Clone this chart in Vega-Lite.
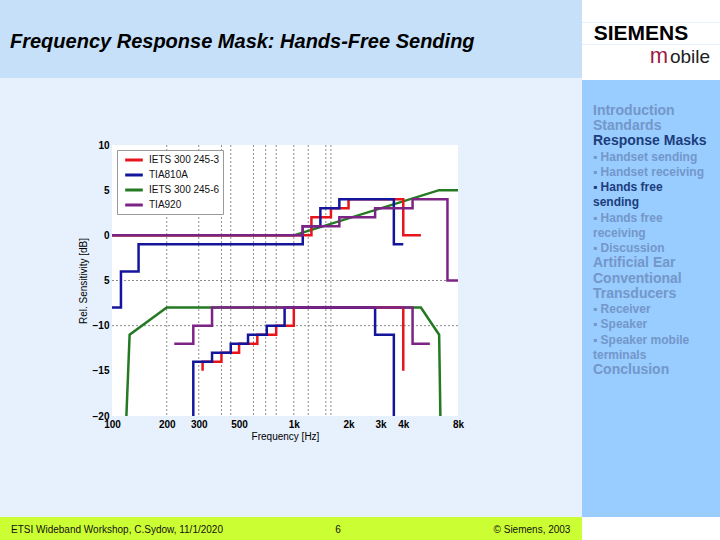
{
  "$schema": "https://vega.github.io/schema/vega-lite/v6.json",
  "padding": 0,
  "background": "#e6f1fd",
  "spacing": 0,
  "resolve": {"scale": {"color": "independent"}, "legend": {"color": "independent"}},
  "config": {
    "view": {"stroke": null},
    "font": "Liberation Sans",
    "text": {"font": "Liberation Sans"}
  },
  "datasets": {
    "masks": [
      {"m": "IETS 300 245-6", "lim": "upper", "i": 0, "f": 100, "dB": 0},
      {"m": "IETS 300 245-6", "lim": "upper", "i": 1, "f": 1000, "dB": 0},
      {"m": "IETS 300 245-6", "lim": "upper", "i": 2, "f": 6300, "dB": 5},
      {"m": "IETS 300 245-6", "lim": "upper", "i": 3, "f": 8000, "dB": 5},
      {"m": "IETS 300 245-6", "lim": "lower", "i": 0, "f": 120, "dB": -20},
      {"m": "IETS 300 245-6", "lim": "lower", "i": 1, "f": 125, "dB": -11},
      {"m": "IETS 300 245-6", "lim": "lower", "i": 2, "f": 200, "dB": -8},
      {"m": "IETS 300 245-6", "lim": "lower", "i": 3, "f": 5000, "dB": -8},
      {"m": "IETS 300 245-6", "lim": "lower", "i": 4, "f": 6300, "dB": -11},
      {"m": "IETS 300 245-6", "lim": "lower", "i": 5, "f": 6400, "dB": -20},

      {"m": "IETS 300 245-3", "lim": "upper", "i": 0, "f": 100, "dB": 0},
      {"m": "IETS 300 245-3", "lim": "upper", "i": 1, "f": 1250, "dB": 0},
      {"m": "IETS 300 245-3", "lim": "upper", "i": 2, "f": 1250, "dB": 2},
      {"m": "IETS 300 245-3", "lim": "upper", "i": 3, "f": 1600, "dB": 2},
      {"m": "IETS 300 245-3", "lim": "upper", "i": 4, "f": 1600, "dB": 3},
      {"m": "IETS 300 245-3", "lim": "upper", "i": 5, "f": 2000, "dB": 3},
      {"m": "IETS 300 245-3", "lim": "upper", "i": 6, "f": 2000, "dB": 4},
      {"m": "IETS 300 245-3", "lim": "upper", "i": 7, "f": 4000, "dB": 4},
      {"m": "IETS 300 245-3", "lim": "upper", "i": 8, "f": 4000, "dB": 0},
      {"m": "IETS 300 245-3", "lim": "upper", "i": 9, "f": 5000, "dB": 0},
      {"m": "IETS 300 245-3", "lim": "lower", "i": 0, "f": 315, "dB": -15},
      {"m": "IETS 300 245-3", "lim": "lower", "i": 1, "f": 315, "dB": -14},
      {"m": "IETS 300 245-3", "lim": "lower", "i": 2, "f": 400, "dB": -14},
      {"m": "IETS 300 245-3", "lim": "lower", "i": 3, "f": 400, "dB": -13},
      {"m": "IETS 300 245-3", "lim": "lower", "i": 4, "f": 500, "dB": -13},
      {"m": "IETS 300 245-3", "lim": "lower", "i": 5, "f": 500, "dB": -12},
      {"m": "IETS 300 245-3", "lim": "lower", "i": 6, "f": 630, "dB": -12},
      {"m": "IETS 300 245-3", "lim": "lower", "i": 7, "f": 630, "dB": -11},
      {"m": "IETS 300 245-3", "lim": "lower", "i": 8, "f": 800, "dB": -11},
      {"m": "IETS 300 245-3", "lim": "lower", "i": 9, "f": 800, "dB": -10},
      {"m": "IETS 300 245-3", "lim": "lower", "i": 10, "f": 1000, "dB": -10},
      {"m": "IETS 300 245-3", "lim": "lower", "i": 11, "f": 1000, "dB": -8},
      {"m": "IETS 300 245-3", "lim": "lower", "i": 12, "f": 4000, "dB": -8},
      {"m": "IETS 300 245-3", "lim": "lower", "i": 13, "f": 4000, "dB": -15},

      {"m": "TIA810A", "lim": "upper", "i": 0, "f": 100, "dB": -8},
      {"m": "TIA810A", "lim": "upper", "i": 1, "f": 112, "dB": -8},
      {"m": "TIA810A", "lim": "upper", "i": 2, "f": 112, "dB": -4},
      {"m": "TIA810A", "lim": "upper", "i": 3, "f": 140, "dB": -4},
      {"m": "TIA810A", "lim": "upper", "i": 4, "f": 140, "dB": -1},
      {"m": "TIA810A", "lim": "upper", "i": 5, "f": 1120, "dB": -1},
      {"m": "TIA810A", "lim": "upper", "i": 6, "f": 1120, "dB": 1},
      {"m": "TIA810A", "lim": "upper", "i": 7, "f": 1400, "dB": 1},
      {"m": "TIA810A", "lim": "upper", "i": 8, "f": 1400, "dB": 3},
      {"m": "TIA810A", "lim": "upper", "i": 9, "f": 1780, "dB": 3},
      {"m": "TIA810A", "lim": "upper", "i": 10, "f": 1780, "dB": 4},
      {"m": "TIA810A", "lim": "upper", "i": 11, "f": 3550, "dB": 4},
      {"m": "TIA810A", "lim": "upper", "i": 12, "f": 3550, "dB": -1},
      {"m": "TIA810A", "lim": "upper", "i": 13, "f": 4000, "dB": -1},
      {"m": "TIA810A", "lim": "lower", "i": 0, "f": 280, "dB": -20},
      {"m": "TIA810A", "lim": "lower", "i": 1, "f": 280, "dB": -14},
      {"m": "TIA810A", "lim": "lower", "i": 2, "f": 355, "dB": -14},
      {"m": "TIA810A", "lim": "lower", "i": 3, "f": 355, "dB": -13},
      {"m": "TIA810A", "lim": "lower", "i": 4, "f": 450, "dB": -13},
      {"m": "TIA810A", "lim": "lower", "i": 5, "f": 450, "dB": -12},
      {"m": "TIA810A", "lim": "lower", "i": 6, "f": 560, "dB": -12},
      {"m": "TIA810A", "lim": "lower", "i": 7, "f": 560, "dB": -11},
      {"m": "TIA810A", "lim": "lower", "i": 8, "f": 710, "dB": -11},
      {"m": "TIA810A", "lim": "lower", "i": 9, "f": 710, "dB": -10},
      {"m": "TIA810A", "lim": "lower", "i": 10, "f": 890, "dB": -10},
      {"m": "TIA810A", "lim": "lower", "i": 11, "f": 890, "dB": -8},
      {"m": "TIA810A", "lim": "lower", "i": 12, "f": 2800, "dB": -8},
      {"m": "TIA810A", "lim": "lower", "i": 13, "f": 2800, "dB": -11},
      {"m": "TIA810A", "lim": "lower", "i": 14, "f": 3550, "dB": -11},
      {"m": "TIA810A", "lim": "lower", "i": 15, "f": 3550, "dB": -20},

      {"m": "TIA920", "lim": "upper", "i": 0, "f": 100, "dB": 0},
      {"m": "TIA920", "lim": "upper", "i": 1, "f": 1120, "dB": 0},
      {"m": "TIA920", "lim": "upper", "i": 2, "f": 1120, "dB": 1},
      {"m": "TIA920", "lim": "upper", "i": 3, "f": 1780, "dB": 1},
      {"m": "TIA920", "lim": "upper", "i": 4, "f": 1780, "dB": 2},
      {"m": "TIA920", "lim": "upper", "i": 5, "f": 2800, "dB": 2},
      {"m": "TIA920", "lim": "upper", "i": 6, "f": 2800, "dB": 3},
      {"m": "TIA920", "lim": "upper", "i": 7, "f": 4500, "dB": 3},
      {"m": "TIA920", "lim": "upper", "i": 8, "f": 4500, "dB": 4},
      {"m": "TIA920", "lim": "upper", "i": 9, "f": 7000, "dB": 4},
      {"m": "TIA920", "lim": "upper", "i": 10, "f": 7000, "dB": -5},
      {"m": "TIA920", "lim": "upper", "i": 11, "f": 8000, "dB": -5},
      {"m": "TIA920", "lim": "lower", "i": 0, "f": 220, "dB": -12},
      {"m": "TIA920", "lim": "lower", "i": 1, "f": 280, "dB": -12},
      {"m": "TIA920", "lim": "lower", "i": 2, "f": 280, "dB": -10},
      {"m": "TIA920", "lim": "lower", "i": 3, "f": 355, "dB": -10},
      {"m": "TIA920", "lim": "lower", "i": 4, "f": 355, "dB": -8},
      {"m": "TIA920", "lim": "lower", "i": 5, "f": 4500, "dB": -8},
      {"m": "TIA920", "lim": "lower", "i": 6, "f": 4500, "dB": -12},
      {"m": "TIA920", "lim": "lower", "i": 7, "f": 5600, "dB": -12}
    ],
    "vgrid": [{"f": 200}, {"f": 300}, {"f": 400}, {"f": 450}, {"f": 600}, {"f": 700}, {"f": 800}, {"f": 1000}, {"f": 1200}, {"f": 1500}, {"f": 1600}],
    "hgrid": [{"dB": -5}, {"dB": -10}],
    "sidebar": [
      {"line": 0, "label": "Introduction", "kind": "heading", "state": "other"},
      {"line": 1, "label": "Standards", "kind": "heading", "state": "other"},
      {"line": 2, "label": "Response Masks", "kind": "heading", "state": "current"},
      {"line": 3, "label": "\u2009▪\u00a0Handset sending", "kind": "item", "state": "other"},
      {"line": 4, "label": "\u2009▪\u00a0Handset receiving", "kind": "item", "state": "other"},
      {"line": 5, "label": "\u2009▪\u00a0Hands free", "kind": "item", "state": "current"},
      {"line": 6, "label": "\u00a0\u00a0\u00a0sending", "kind": "item", "state": "current"},
      {"line": 7, "label": "\u2009▪\u00a0Hands free", "kind": "item", "state": "other"},
      {"line": 8, "label": "\u00a0\u00a0\u00a0receiving", "kind": "item", "state": "other"},
      {"line": 9, "label": "\u2009▪\u00a0Discussion", "kind": "item", "state": "other"},
      {"line": 10, "label": "Artificial Ear", "kind": "heading", "state": "other"},
      {"line": 11, "label": "Conventional", "kind": "heading", "state": "other"},
      {"line": 12, "label": "\u00a0\u00a0\u00a0Transducers", "kind": "heading", "state": "other"},
      {"line": 13, "label": "\u2009▪\u00a0Receiver", "kind": "item", "state": "other"},
      {"line": 14, "label": "\u2009▪\u00a0Speaker", "kind": "item", "state": "other"},
      {"line": 15, "label": "\u2009▪\u00a0Speaker mobile", "kind": "item", "state": "other"},
      {"line": 16, "label": "\u00a0\u00a0\u00a0terminals", "kind": "item", "state": "other"},
      {"line": 17, "label": "Conclusion", "kind": "heading", "state": "other"}
    ]
  },
  "vconcat": [
    {
      "hconcat": [
        {
          "vconcat": [
            {"width": 582, "height": 6, "data": {"values": []}, "mark": "text", "view": {"fill": "#c6e0fa"}},
            {
              "hconcat": [
                {"width": 10, "height": 72, "data": {"values": []}, "mark": "text", "view": {"fill": "#c6e0fa"}},
                {
                  "width": 572, "height": 72,
                  "view": {"fill": "#c6e0fa"},
                  "data": {"values": [{"t": "Frequency Response Mask: Hands-Free Sending"}]},
                  "mark": {"type": "text", "align": "left", "baseline": "middle", "fontSize": 20, "fontWeight": "bold", "fontStyle": "italic", "color": "#000000"},
                  "encoding": {
                    "text": {"field": "t"},
                    "x": {"datum": 0, "type": "quantitative", "scale": {"domain": [0, 1]}, "axis": null}
                  }
                }
              ],
              "spacing": 0, "bounds": "flush"
            }
          ],
          "spacing": 0
        },
        {
          "vconcat": [
            {"width": 138, "height": 22, "data": {"values": []}, "mark": "text", "view": {"fill": "#ffffff"}},
            {
              "hconcat": [
                {
                  "width": 118, "height": 21, "view": {"fill": "#ffffff"},
                  "data": {"values": [{"t": "SIEMENS"}]},
                  "mark": {"type": "text", "baseline": "middle", "fontSize": 21, "fontWeight": "bold", "color": "#000000"},
                  "encoding": {"text": {"field": "t"}}
                },
                {"width": 20, "height": 21, "data": {"values": []}, "mark": "text", "view": {"fill": "#ffffff"}}
              ],
              "spacing": 0, "bounds": "flush"
            },
            {
              "hconcat": [
                {"width": 67, "height": 35, "data": {"values": []}, "mark": "text", "view": {"fill": "#ffffff"}},
                {
                  "width": 20, "height": 35, "view": {"fill": "#ffffff"},
                  "data": {"values": [{"t": "m"}]},
                  "mark": {"type": "text", "baseline": "alphabetic", "fontSize": 22, "color": "#9b1b45"},
                  "encoding": {"text": {"field": "t"}}
                },
                {
                  "width": 42, "height": 35, "view": {"fill": "#ffffff"},
                  "data": {"values": [{"t": "obile"}]},
                  "mark": {"type": "text", "baseline": "alphabetic", "fontSize": 19, "color": "#222222"},
                  "encoding": {"text": {"field": "t"}}
                },
                {"width": 9, "height": 35, "data": {"values": []}, "mark": "text", "view": {"fill": "#ffffff"}}
              ],
              "spacing": 0, "bounds": "flush"
            }
          ],
          "spacing": 0
        }
      ],
      "spacing": 0
    },
    {
      "hconcat": [
        {
          "vconcat": [
            {"width": 582, "height": 60, "data": {"values": []}, "mark": "text", "view": {"fill": "#e6f1fd"}},
            {
              "hconcat": [
                {"width": 112, "height": 370, "data": {"values": []}, "mark": "text", "view": {"fill": "#e6f1fd"}},
                {
                  "width": 346, "height": 271,
                  "view": {"fill": "#ffffff"},
                  "layer": [
                    {
                      "data": {"name": "vgrid"},
                      "mark": {"type": "rule", "strokeDash": [2, 2], "color": "#8c8c8c", "strokeWidth": 1},
                      "encoding": {
                        "x": {"field": "f", "type": "quantitative", "scale": {"type": "log", "domain": [100, 8000], "nice": false},
                          "axis": {"values": [100, 200, 300, 500, 1000, 2000, 3000, 4000, 8000], "labelExpr": "datum.value >= 1000 ? (datum.value / 1000) + 'k' : datum.label", "title": "Frequency [Hz]", "grid": false, "domain": false, "ticks": false, "labelFontSize": 10, "labelFontWeight": "bold", "labelColor": "#000000", "labelPadding": 3, "titleFontSize": 10, "titleFontWeight": "normal", "titleColor": "#000000", "titlePadding": 2, "labelFlush": false, "labelOverlap": false}}
                      }
                    },
                    {
                      "data": {"name": "hgrid"},
                      "mark": {"type": "rule", "strokeDash": [2, 2], "color": "#8c8c8c", "strokeWidth": 1},
                      "encoding": {
                        "y": {"field": "dB", "type": "quantitative", "scale": {"domain": [-20, 10], "nice": false, "zero": false},
                          "axis": {"values": [-20, -15, -10, -5, 0, 5, 10], "labelExpr": "datum.value === -5 ? '5' : datum.label", "title": "Rel. Sensitivity [dB]", "grid": false, "domain": false, "ticks": false, "labelFontSize": 10, "labelFontWeight": "bold", "labelColor": "#000000", "labelPadding": 3, "titleFontSize": 10, "titleFontWeight": "normal", "titleColor": "#000000", "titlePadding": 4, "labelFlush": false, "labelOverlap": false}}
                      }
                    },
                    {
                      "data": {"name": "masks"},
                      "mark": {"type": "line", "strokeWidth": 2.5},
                      "encoding": {
                        "x": {"field": "f", "type": "quantitative", "scale": {"type": "log", "domain": [100, 8000], "nice": false},
                          "axis": {"values": [100, 200, 300, 500, 1000, 2000, 3000, 4000, 8000], "labelExpr": "datum.value >= 1000 ? (datum.value / 1000) + 'k' : datum.label", "title": "Frequency [Hz]", "grid": false, "domain": false, "ticks": false, "labelFontSize": 10, "labelFontWeight": "bold", "labelColor": "#000000", "labelPadding": 3, "titleFontSize": 10, "titleFontWeight": "normal", "titleColor": "#000000", "titlePadding": 2, "labelFlush": false, "labelOverlap": false}},
                        "y": {"field": "dB", "type": "quantitative", "scale": {"domain": [-20, 10], "nice": false, "zero": false},
                          "axis": {"values": [-20, -15, -10, -5, 0, 5, 10], "labelExpr": "datum.value === -5 ? '5' : datum.label", "title": "Rel. Sensitivity [dB]", "grid": false, "domain": false, "ticks": false, "labelFontSize": 10, "labelFontWeight": "bold", "labelColor": "#000000", "labelPadding": 3, "titleFontSize": 10, "titleFontWeight": "normal", "titleColor": "#000000", "titlePadding": 4, "labelFlush": false, "labelOverlap": false}},
                        "color": {"field": "m", "type": "nominal",
                          "scale": {"domain": ["IETS 300 245-3", "TIA810A", "IETS 300 245-6", "TIA920"], "range": ["#e8141c", "#15159c", "#237a23", "#7d2386"]},
                          "legend": {"title": null, "orient": "top-left", "offset": 5, "fillColor": "#ffffff", "strokeColor": "#9a9a9a", "padding": 3, "symbolType": "M-1.6,0H1.6", "symbolStrokeWidth": 3, "symbolSize": 121, "symbolOffset": 7, "labelFontSize": 10, "labelColor": "#111111", "rowPadding": 2, "labelOffset": 8}},
                        "detail": {"field": "lim"},
                        "order": {"field": "i", "type": "quantitative"}
                      }
                    }
                  ]
                },
                {"width": 124, "height": 370, "data": {"values": []}, "mark": "text"}
              ],
              "spacing": 0, "bounds": "flush",
              "resolve": {"scale": {"color": "independent"}, "legend": {"color": "independent"}}
            }
          ],
          "spacing": 0,
          "resolve": {"scale": {"color": "independent"}, "legend": {"color": "independent"}}
        },
        {
          "hconcat": [
            {"width": 11, "height": 437, "data": {"values": []}, "mark": "text", "view": {"fill": "#99ccff"}},
            {
              "width": 127, "height": 437,
              "view": {"fill": "#99ccff"},
              "data": {"name": "sidebar"},
              "encoding": {
                "x": {"datum": 0, "type": "quantitative", "scale": {"domain": [0, 1]}, "axis": null},
                "y": {"field": "line", "type": "quantitative", "scale": {"domain": [-2.035, 26.65], "reverse": true, "nice": false, "zero": false}, "axis": null},
                "text": {"field": "label"}
              },
              "layer": [
                {"transform": [{"filter": "datum.state === 'other' && datum.kind === 'heading'"}], "mark": {"type": "text", "align": "left", "baseline": "middle", "fontSize": 14, "fontWeight": "bold", "color": "#7397c9"}},
                {"transform": [{"filter": "datum.state === 'other' && datum.kind === 'item'"}], "mark": {"type": "text", "align": "left", "baseline": "middle", "fontSize": 12, "fontWeight": "bold", "color": "#7397c9"}},
                {"transform": [{"filter": "datum.state === 'current' && datum.kind === 'heading'"}], "mark": {"type": "text", "align": "left", "baseline": "middle", "fontSize": 14, "fontWeight": "bold", "color": "#1c3d7c"}},
                {"transform": [{"filter": "datum.state === 'current' && datum.kind === 'item'"}], "mark": {"type": "text", "align": "left", "baseline": "middle", "fontSize": 12, "fontWeight": "bold", "color": "#1c3d7c"}}
              ]
            }
          ],
          "spacing": 0, "bounds": "flush"
        }
      ],
      "spacing": 0,
      "resolve": {"scale": {"color": "independent"}, "legend": {"color": "independent"}}
    },
    {
      "hconcat": [
        {
          "width": 234, "height": 25, "view": {"fill": "#ccff33"},
          "data": {"values": [{"t": "ETSI Wideband Workshop, C.Sydow, 11/1/2020"}]},
          "mark": {"type": "text", "baseline": "middle", "fontSize": 10, "color": "#111111"},
          "encoding": {"text": {"field": "t"}}
        },
        {
          "width": 208, "height": 25, "view": {"fill": "#ccff33"},
          "data": {"values": [{"t": "6"}]},
          "mark": {"type": "text", "baseline": "middle", "fontSize": 10, "color": "#111111"},
          "encoding": {"text": {"field": "t"}}
        },
        {"width": 40, "height": 25, "data": {"values": []}, "mark": "text", "view": {"fill": "#ccff33"}},
        {
          "width": 100, "height": 25, "view": {"fill": "#ccff33"},
          "data": {"values": [{"t": "© Siemens, 2003"}]},
          "mark": {"type": "text", "baseline": "middle", "fontSize": 10, "color": "#111111"},
          "encoding": {"text": {"field": "t"}}
        },
        {"width": 138, "height": 25, "data": {"values": []}, "mark": "text", "view": {"fill": "#ffffff"}}
      ],
      "spacing": 0, "bounds": "flush"
    }
  ]
}
